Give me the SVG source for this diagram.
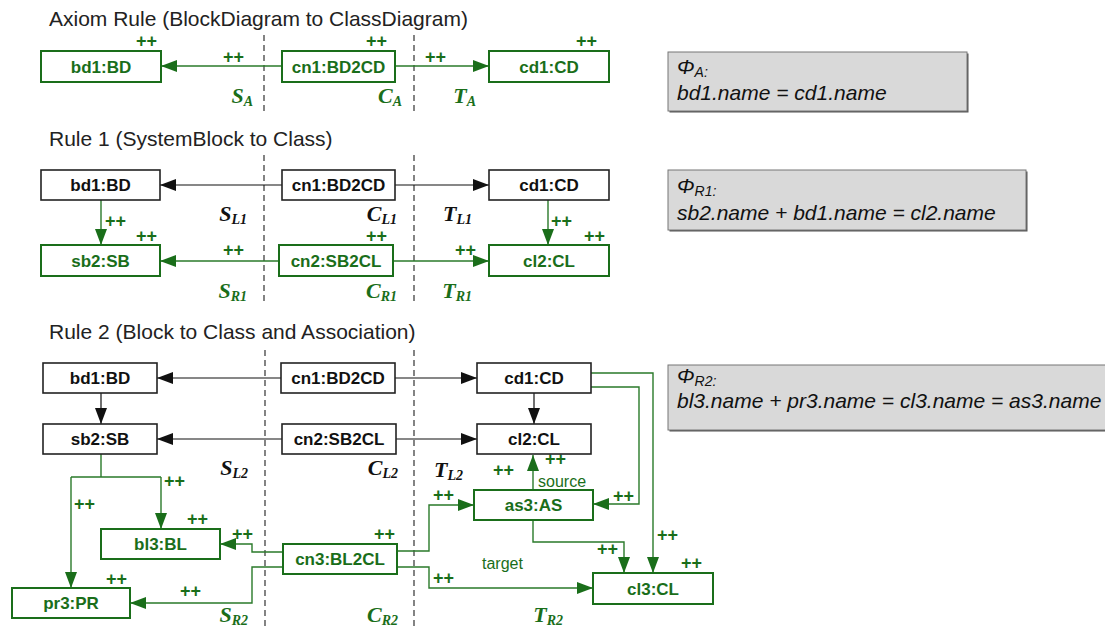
<svg xmlns="http://www.w3.org/2000/svg" width="1105" height="627" viewBox="0 0 1105 627">
<style>
.title{font-family:"Liberation Sans",Arial,sans-serif;font-size:21px;fill:#222}
.gb{fill:#fff;stroke:#1a6e1a;stroke-width:2}
.kb{fill:#fff;stroke:#222;stroke-width:1.6}
.gt{font-family:"Liberation Sans",Arial,sans-serif;font-size:17px;font-weight:bold;fill:#1a6e1a;text-anchor:middle}
.kt{font-family:"Liberation Sans",Arial,sans-serif;font-size:17px;font-weight:bold;fill:#111;text-anchor:middle}
.pp{font-family:"Liberation Sans",Arial,sans-serif;font-size:18px;font-weight:bold;fill:#1a6e1a}
.e{text-anchor:end}
.lbl{font-family:"Liberation Serif","Times New Roman",serif;font-size:22px;font-weight:bold;font-style:italic;text-anchor:end}
.lg{fill:#1a6e1a}
.lk{fill:#111}
.sub{font-size:14px}
.small{font-family:"Liberation Sans",Arial,sans-serif;font-size:16px;fill:#1a6e1a}
.phi{fill:#d9d9d9;stroke:#777;stroke-width:1}
.phis{fill:#555}
.pt{font-family:"Liberation Sans",Arial,sans-serif;font-size:21px;font-style:italic;fill:#111}
.dash{stroke:#333;stroke-width:1.2;stroke-dasharray:6,4;fill:none}
.gc{stroke:#2a7a2a;stroke-width:1.4;fill:none}
.kc{stroke:#111;stroke-width:1.2;fill:none}
</style>
<defs>
<marker id="ag" markerUnits="userSpaceOnUse" markerWidth="16" markerHeight="12" refX="16" refY="6" orient="auto"><path d="M0,0 L16,6 L0,12 z" fill="#1a6e1a"/></marker>
<marker id="ak" markerUnits="userSpaceOnUse" markerWidth="16" markerHeight="12" refX="16" refY="6" orient="auto"><path d="M0,0 L16,6 L0,12 z" fill="#111"/></marker>
</defs>

<!-- Titles -->
<text class="title" x="49" y="26">Axiom Rule (BlockDiagram to ClassDiagram)</text>
<text class="title" x="49" y="146">Rule 1 (SystemBlock to Class)</text>
<text class="title" x="49" y="339">Rule 2 (Block to Class and Association)</text>

<!-- Dashed separators -->
<g id="separators">
<line class="dash" x1="264" y1="35" x2="264" y2="111"/>
<line class="dash" x1="414" y1="35" x2="414" y2="111"/>
<line class="dash" x1="264" y1="155" x2="264" y2="305"/>
<line class="dash" x1="414" y1="155" x2="414" y2="305"/>
<line class="dash" x1="265" y1="350" x2="265" y2="627"/>
<line class="dash" x1="414" y1="350" x2="414" y2="627"/>
</g>

<!-- Connectors -->
<g id="connectors">
<line class="gc" x1="282" y1="66" x2="161" y2="66" marker-end="url(#ag)"/>
<line class="gc" x1="395" y1="66" x2="489" y2="66" marker-end="url(#ag)"/>
<line class="kc" x1="282" y1="185" x2="160" y2="185" marker-end="url(#ak)"/>
<line class="kc" x1="395" y1="185" x2="489" y2="185" marker-end="url(#ak)"/>
<line class="gc" x1="279" y1="261" x2="160" y2="261" marker-end="url(#ag)"/>
<line class="gc" x1="393" y1="261" x2="489" y2="261" marker-end="url(#ag)"/>
<line class="gc" x1="101" y1="200" x2="101" y2="245" marker-end="url(#ag)"/>
<line class="gc" x1="548" y1="200" x2="548" y2="245" marker-end="url(#ag)"/>
<line class="kc" x1="281" y1="378" x2="157" y2="378" marker-end="url(#ak)"/>
<line class="kc" x1="395" y1="378" x2="477" y2="378" marker-end="url(#ak)"/>
<line class="kc" x1="282" y1="439" x2="157" y2="439" marker-end="url(#ak)"/>
<line class="kc" x1="396" y1="439" x2="477" y2="439" marker-end="url(#ak)"/>
<line class="kc" x1="101" y1="393" x2="101" y2="424" marker-end="url(#ak)"/>
<line class="kc" x1="534" y1="393" x2="534" y2="424" marker-end="url(#ak)"/>
<path class="gc" d="M101,454 V477 M71,477 H161"/>
<path class="gc" d="M161,477 V529" marker-end="url(#ag)"/>
<path class="gc" d="M71,477 V588" marker-end="url(#ag)"/>
<path class="gc" d="M283,552 H252 V544 H220" marker-end="url(#ag)"/>
<path class="gc" d="M283,567 H252 V603 H130" marker-end="url(#ag)"/>
<path class="gc" d="M397,551 H429 V505 H474" marker-end="url(#ag)"/>
<path class="gc" d="M397,567 H429 V588 H593" marker-end="url(#ag)"/>
<path class="gc" d="M533,490 V455" marker-end="url(#ag)"/>
<path class="gc" d="M591,387 H639 V504 H593" marker-end="url(#ag)"/>
<path class="gc" d="M591,373 H653 V573" marker-end="url(#ag)"/>
<path class="gc" d="M533,520 V542 H624 V573" marker-end="url(#ag)"/>
</g>

<!-- Connector labels -->
<g id="connector-labels">
<text class="pp" x="223" y="63">++</text>
<text class="pp" x="425" y="63">++</text>
<text class="pp" x="105" y="227">++</text>
<text class="pp" x="551" y="227">++</text>
<text class="pp" x="223" y="256">++</text>
<text class="pp" x="455" y="256">++</text>
<text class="pp" x="164" y="487">++</text>
<text class="pp" x="74" y="510">++</text>
<text class="pp" x="232" y="540">++</text>
<text class="pp" x="180" y="597">++</text>
<text class="pp" x="433" y="501">++</text>
<text class="pp" x="433" y="584">++</text>
<text class="pp" x="545" y="465">++</text>
<text class="pp" x="613" y="502">++</text>
<text class="pp" x="657" y="541">++</text>
<text class="pp" x="597" y="555">++</text>
<text class="small" x="482" y="569">target</text>
<text class="small" x="538" y="487">source</text>
</g>

<!-- Axiom nodes -->
<g id="ax-bd1"><rect class="gb" x="41" y="51" width="120" height="31"/><text class="gt" x="101" y="72.5">bd1:BD</text><text class="pp e" x="157" y="47">++</text></g>
<g id="ax-cn1"><rect class="gb" x="282" y="51" width="113" height="31"/><text class="gt" x="338.5" y="72.5">cn1:BD2CD</text><text class="pp e" x="387" y="47">++</text></g>
<g id="ax-cd1"><rect class="gb" x="489" y="51" width="120" height="31"/><text class="gt" x="549" y="72.5">cd1:CD</text><text class="pp e" x="597" y="47">++</text></g>

<!-- Rule 1 nodes -->
<g id="r1-bd1"><rect class="kb" x="41" y="170" width="119" height="30"/><text class="kt" x="100.5" y="191">bd1:BD</text></g>
<g id="r1-cn1"><rect class="kb" x="282" y="170" width="113" height="30"/><text class="kt" x="338.5" y="191">cn1:BD2CD</text></g>
<g id="r1-cd1"><rect class="kb" x="489" y="170" width="120" height="30"/><text class="kt" x="549" y="191">cd1:CD</text></g>
<g id="r1-sb2"><rect class="gb" x="41" y="245" width="119" height="31"/><text class="gt" x="100.5" y="266.5">sb2:SB</text><text class="pp e" x="157" y="242">++</text></g>
<g id="r1-cn2"><rect class="gb" x="279" y="245" width="114" height="31"/><text class="gt" x="336" y="266.5">cn2:SB2CL</text><text class="pp e" x="387" y="242">++</text></g>
<g id="r1-cl2"><rect class="gb" x="489" y="245" width="120" height="31"/><text class="gt" x="549" y="266.5">cl2:CL</text><text class="pp e" x="605" y="242">++</text></g>

<!-- Rule 2 nodes -->
<g id="r2-bd1"><rect class="kb" x="43" y="363" width="114" height="30"/><text class="kt" x="100" y="384">bd1:BD</text></g>
<g id="r2-cn1"><rect class="kb" x="281" y="363" width="114" height="30"/><text class="kt" x="338" y="384">cn1:BD2CD</text></g>
<g id="r2-cd1"><rect class="kb" x="477" y="363" width="114" height="30"/><text class="kt" x="534" y="384">cd1:CD</text></g>
<g id="r2-sb2"><rect class="kb" x="43" y="424" width="114" height="30"/><text class="kt" x="100" y="445">sb2:SB</text></g>
<g id="r2-cn2"><rect class="kb" x="282" y="424" width="114" height="30"/><text class="kt" x="339" y="445">cn2:SB2CL</text></g>
<g id="r2-cl2"><rect class="kb" x="477" y="424" width="114" height="30"/><text class="kt" x="534" y="445">cl2:CL</text></g>
<g id="r2-bl3"><rect class="gb" x="101" y="529" width="119" height="30"/><text class="gt" x="160.5" y="550">bl3:BL</text><text class="pp e" x="208" y="525">++</text></g>
<g id="r2-cn3"><rect class="gb" x="283" y="544" width="114" height="30"/><text class="gt" x="340" y="565">cn3:BL2CL</text><text class="pp e" x="395" y="540">++</text></g>
<g id="r2-pr3"><rect class="gb" x="12" y="588" width="118" height="30"/><text class="gt" x="71" y="609">pr3:PR</text><text class="pp e" x="127" y="585">++</text></g>
<g id="r2-as3"><rect class="gb" x="474" y="490" width="119" height="30"/><text class="gt" x="533.5" y="511">as3:AS</text><text class="pp" x="493" y="476">++</text></g>
<g id="r2-cl3"><rect class="gb" x="593" y="573" width="120" height="31"/><text class="gt" x="653" y="594.5">cl3:CL</text><text class="pp e" x="702" y="569">++</text></g>

<!-- Domain labels -->
<g id="domain-labels">
<text class="lbl lg" x="253" y="103">S<tspan class="sub" dy="3">A</tspan></text>
<text class="lbl lg" x="402" y="103">C<tspan class="sub" dy="3">A</tspan></text>
<text class="lbl lg" x="476" y="103">T<tspan class="sub" dy="3">A</tspan></text>
<text class="lbl lk" x="247" y="221">S<tspan class="sub" dy="3">L1</tspan></text>
<text class="lbl lk" x="397" y="221">C<tspan class="sub" dy="3">L1</tspan></text>
<text class="lbl lk" x="472" y="221">T<tspan class="sub" dy="3">L1</tspan></text>
<text class="lbl lg" x="247" y="298">S<tspan class="sub" dy="3">R1</tspan></text>
<text class="lbl lg" x="397" y="298">C<tspan class="sub" dy="3">R1</tspan></text>
<text class="lbl lg" x="472" y="298">T<tspan class="sub" dy="3">R1</tspan></text>
<text class="lbl lk" x="248" y="475">S<tspan class="sub" dy="3">L2</tspan></text>
<text class="lbl lk" x="398" y="475">C<tspan class="sub" dy="3">L2</tspan></text>
<text class="lbl lk" x="463" y="477">T<tspan class="sub" dy="3">L2</tspan></text>
<text class="lbl lg" x="248" y="622">S<tspan class="sub" dy="3">R2</tspan></text>
<text class="lbl lg" x="398" y="622">C<tspan class="sub" dy="3">R2</tspan></text>
<text class="lbl lg" x="563" y="622">T<tspan class="sub" dy="3">R2</tspan></text>
</g>

<!-- Constraint boxes -->
<g id="phi-a">
<rect class="phis" x="669.5" y="53.5" width="299" height="59"/>
<rect class="phi" x="668" y="52" width="299" height="59"/>
<text class="pt" x="677" y="74">Φ<tspan class="sub" dy="3">A</tspan><tspan class="sub">:</tspan></text>
<text class="pt" x="677" y="100">bd1.name = cd1.name</text>
</g>
<g id="phi-r1">
<rect class="phis" x="669.5" y="171.5" width="358" height="60"/>
<rect class="phi" x="668" y="170" width="358" height="60"/>
<text class="pt" x="677" y="193">Φ<tspan class="sub" dy="3">R1</tspan><tspan class="sub">:</tspan></text>
<text class="pt" x="677" y="220">sb2.name + bd1.name = cl2.name</text>
</g>
<g id="phi-r2">
<rect class="phis" x="669.5" y="366.5" width="450" height="65"/>
<rect class="phi" x="668" y="365" width="450" height="65"/>
<text class="pt" x="677" y="383">Φ<tspan class="sub" dy="3">R2</tspan><tspan class="sub">:</tspan></text>
<text class="pt" x="677" y="408">bl3.name + pr3.name = cl3.name = as3.name</text>
</g>
</svg>
